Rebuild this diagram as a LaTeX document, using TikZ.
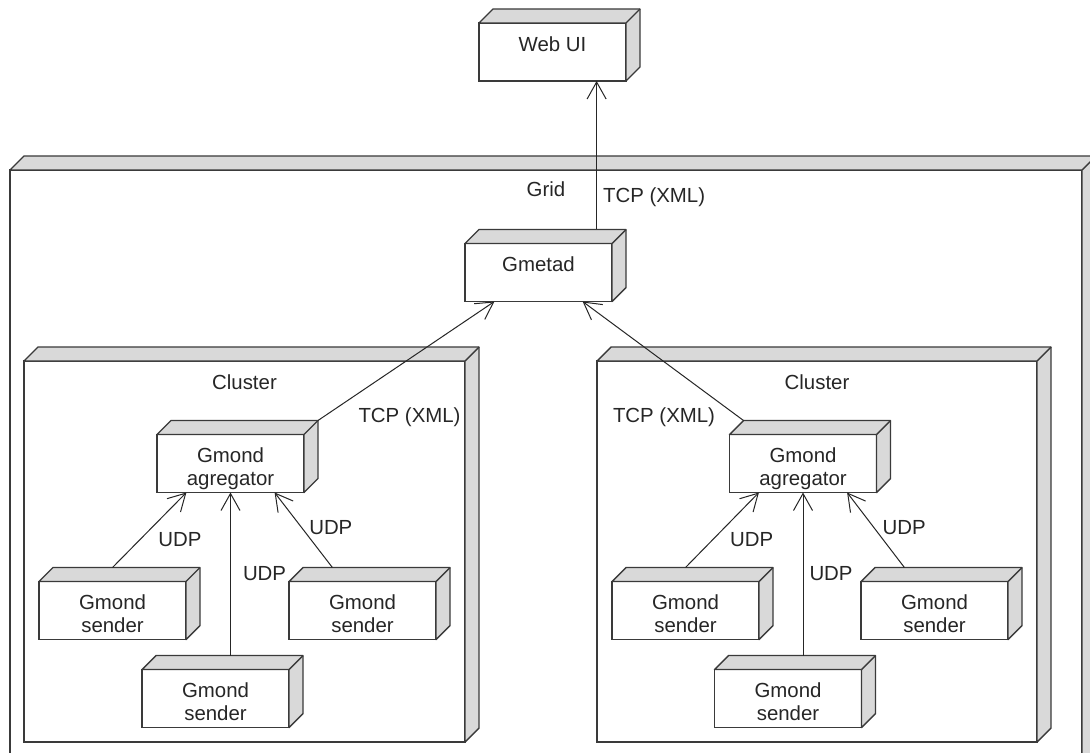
\documentclass[tikz,border=0pt]{standalone}
\usepackage{fontspec}
\setmainfont{Liberation Sans}
\usepackage{tikz}
\usetikzlibrary{arrows.meta,positioning,calc}

\definecolor{edgegray}{HTML}{3A3A3A}
\definecolor{facegray}{HTML}{D9D9D9}

\tikzset{
	>={Straight Barb[length=8.5pt,width=9.5pt]},
	dnode/.style={draw=edgegray,fill=white,line width=0.7pt,outer sep=0pt,inner sep=0pt,minimum width=73.5pt,minimum height=29pt},
	face/.style={draw=edgegray,fill=facegray,line width=0.7pt,line join=round},
	txt/.style={anchor=north,yshift=-5pt,align=center,inner sep=1.5pt,text=black!85,font=\fontsize{10.2}{11.5}\selectfont},
	lbl/.style={inner sep=1.5pt,font=\fontsize{10.2}{11.5}\selectfont},
	conn/.style={->,black!85,line width=0.5pt}
}

\begin{document}
\begin{tikzpicture}[x=0.5pt,y=-0.5pt]
	\useasboundingbox (0,0) rectangle (1090,753);
	\clip (0,0) rectangle (1090,753);
	% containers
	\node[dnode,minimum width=536pt,minimum height=300pt,label={[txt,yshift=1pt]north:Grid}](grid) at (546,470) {};
	\node[dnode,minimum width=220.5pt,minimum height=190.5pt,label={[txt]north:Cluster}](lcl) at (244.5,551.5) {};
	\node[dnode,minimum width=220pt,minimum height=190.5pt,label={[txt]north:Cluster}](rcl) at (817,551.5) {};
	% nodes
	\node[dnode,label={[txt]north:Web UI}](webui) at (552.5,52) {};
	\node[dnode,label={[txt]north:Gmetad}](gmetad) at (538.5,272.5) {};
	\node[dnode,label={[txt]north:Gmond\\agregator}](lagg) at (230.5,463.5) {};
	\node[dnode,label={[txt]north:Gmond\\agregator}](ragg) at (803,463.5) {};
	\node[dnode,label={[txt]north:Gmond\\sender}](ls1) at (112.5,610.5) {};
	\node[dnode,label={[txt]north:Gmond\\sender}](ls2) at (362.5,610.5) {};
	\node[dnode,label={[txt]north:Gmond\\sender}](ls3) at (215.5,698.5) {};
	\node[dnode,label={[txt]north:Gmond\\sender}](rs1) at (685.5,610.5) {};
	\node[dnode,label={[txt]north:Gmond\\sender}](rs2) at (934.5,610.5) {};
	\node[dnode,label={[txt]north:Gmond\\sender}](rs3) at (788,698.5) {};
	% top and side faces
	\foreach \n in {grid,lcl,rcl,webui,gmetad,lagg,ragg,ls1,ls2,ls3,rs1,rs2,rs3}{
		\filldraw[face] (\n.north west) -- ++(7pt,7pt) -- ([shift={(7pt,7pt)}]\n.north east)
			-- ([shift={(7pt,7pt)}]\n.south east) -- (\n.south east) -- (\n.north east) -- cycle;
		\draw[face] (\n.north east) -- ++(7pt,7pt);
	}
	% connections
	\path[conn]($(gmetad.north west)!.8!(gmetad.north east)+(7pt,7pt)$) edge node[lbl,pos=.22,right=1.5pt] {TCP (XML)} ($(webui.south west)!.8!(webui.south east)$);
	\path[conn]([shift={(7pt,7pt)}]lagg.north east) edge node[lbl,at start,right=18.5pt,yshift=1.5pt] {TCP (XML)} ($(gmetad.south west)!.2!(gmetad.south east)$);
	\path[conn]([shift={(7pt,7pt)}]ragg.north west) edge node[lbl,at start,left=12.5pt,yshift=1.5pt] {TCP (XML)} ($(gmetad.south west)!.8!(gmetad.south east)$);
	\path[conn]([yshift=7pt]ls1.north) edge node[lbl,pos=.37,right=7.5pt] {UDP} ($(lagg.south west)!.2!(lagg.south east)$);
	\path[conn]($(lagg.south |- ls3.north)+(0,7pt)$) edge node[lbl,pos=.5,right=4.5pt] {UDP} (lagg.south);
	\path[conn]($(ls2.north west)!.2!(ls2.north east)+(7pt,7pt)$) edge node[lbl,pos=.53,right=2pt] {UDP} ($(lagg.south west)!.8!(lagg.south east)$);
	\path[conn]([yshift=7pt]rs1.north) edge node[lbl,pos=.37,right=7pt] {UDP} ($(ragg.south west)!.2!(ragg.south east)$);
	\path[conn]($(ragg.south |- rs3.north)+(0,7pt)$) edge node[lbl,pos=.5,right=1.5pt] {UDP} (ragg.south);
	\path[conn]($(rs2.north west)!.2!(rs2.north east)+(7pt,7pt)$) edge node[lbl,pos=.53,right=2.5pt] {UDP} ($(ragg.south west)!.8!(ragg.south east)$);
\end{tikzpicture}
\end{document}
